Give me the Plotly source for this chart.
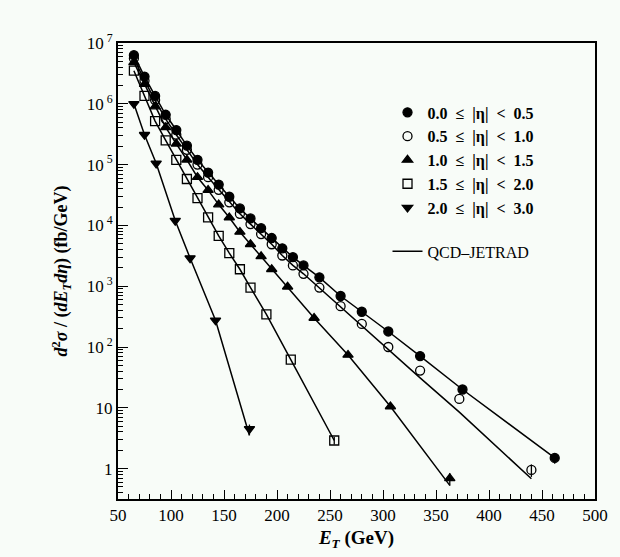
import plotly.graph_objects as go

# ---------------- data ----------------
NB = "\u00a0"
labels = ["0.0", "0.5", "1.0", "1.5", "2.0"]
labels_hi = ["0.5", "1.0", "1.5", "2.0", "3.0"]

et_0 = [65, 75, 85, 95, 105, 115, 125, 135, 145, 155, 165, 175, 185, 195, 205, 215, 225,
        240, 260, 280, 305, 335, 375, 462]
xs_0 = [6.3e6, 2.8e6, 1.35e6, 6.6e5, 3.7e5, 2.05e5, 1.2e5, 7.4e4, 4.7e4, 2.96e4, 1.9e4,
        1.3e4, 9.0e3, 6.2e3, 4.2e3, 3.0e3, 2.2e3, 1.4e3, 6.9e2, 3.8e2, 1.8e2, 7.1e1, 2.0e1, 1.5]
th_et_0 = [65, 75, 85, 95, 105, 115, 125, 135, 145, 155, 165, 175, 185, 195, 205, 215, 225,
           240, 260, 280, 305, 335, 375, 462]
th_0 = [6.3e6, 2.8e6, 1.35e6, 6.6e5, 3.7e5, 2.05e5, 1.2e5, 7.4e4, 4.7e4, 2.96e4, 1.9e4,
        1.3e4, 9.0e3, 6.2e3, 4.2e3, 3.0e3, 2.2e3, 1.4e3, 6.9e2, 3.8e2, 1.8e2, 7.1e1, 2.0e1, 1.5]

et_1 = [65, 75, 85, 95, 105, 115, 125, 135, 145, 155, 165, 175, 185, 195, 205, 215, 225,
        240, 260, 280, 305, 335, 372, 440]
xs_1 = [5.6e6, 2.4e6, 1.15e6, 5.6e5, 3.1e5, 1.75e5, 1.0e5, 6.2e4, 3.85e4, 2.4e4, 1.55e4,
        1.05e4, 7.2e3, 4.9e3, 3.2e3, 2.2e3, 1.6e3, 9.5e2, 4.7e2, 2.4e2, 1.0e2, 4.1e1, 1.4e1, 0.95]
th_et_1 = [65, 75, 85, 95, 105, 115, 125, 135, 145, 155, 165, 175, 185, 195, 205, 215, 225,
           240, 260, 280, 305, 335, 372, 440]
th_1 = [5.6e6, 2.4e6, 1.15e6, 5.6e5, 3.1e5, 1.75e5, 1.0e5, 6.2e4, 3.85e4, 2.4e4, 1.55e4,
        1.05e4, 7.2e3, 4.9e3, 3.2e3, 2.2e3, 1.6e3, 9.3e2, 4.5e2, 2.2e2, 9.0e1, 3.1e1, 8.5, 0.68]

et_2 = [65, 75, 85, 95, 105, 115, 125, 135, 145, 155, 165, 175, 185, 195, 210, 235, 267, 307, 363]
xs_2 = [4.8e6, 2.1e6, 9.0e5, 4.1e5, 2.2e5, 1.2e5, 6.2e4, 3.8e4, 2.2e4, 1.35e4, 7.8e3,
        4.9e3, 3.1e3, 1.9e3, 9.8e2, 3.0e2, 7.4e1, 1.05e1, 0.69]
th_et_2 = [65, 75, 85, 95, 105, 115, 125, 135, 145, 155, 165, 175, 185, 195, 210, 235, 267, 307, 363]
th_2 = [4.8e6, 2.1e6, 9.0e5, 4.1e5, 2.2e5, 1.2e5, 6.2e4, 3.8e4, 2.2e4, 1.35e4, 7.8e3,
        4.9e3, 3.1e3, 1.9e3, 9.8e2, 3.0e2, 7.4e1, 1.05e1, 0.53]

et_3 = [65, 75, 85, 95, 105, 115, 125, 135, 145, 155, 165, 175, 190, 213, 254]
xs_3 = [3.5e6, 1.35e6, 5.2e5, 2.5e5, 1.2e5, 5.8e4, 2.8e4, 1.36e4, 6.7e3, 3.5e3, 1.9e3,
        9.5e2, 3.45e2, 6.2e1, 2.9]
th_et_3 = [65, 75, 85, 95, 105, 115, 125, 135, 145, 155, 165, 175, 190, 213, 254]
th_3 = [3.5e6, 1.35e6, 5.2e5, 2.5e5, 1.2e5, 5.8e4, 2.8e4, 1.36e4, 6.7e3, 3.5e3, 1.9e3,
        9.5e2, 3.45e2, 6.2e1, 2.9]

et_4 = [65, 75, 86, 104, 118, 142, 174]
xs_4 = [1.0e6, 3.1e5, 1.05e5, 1.2e4, 2.9e3, 2.75e2, 4.5]
th_et_4 = [65, 75, 86, 104, 118, 142, 174]
th_4 = [1.0e6, 3.1e5, 1.05e5, 1.2e4, 2.9e3, 2.75e2, 3.5]

# uncertainties (only visible on the last points)
err_up_0 = [0] * 23 + [0.3]
err_dn_0 = [0] * 23 + [0.3]
err_up_1 = [0] * 23 + [0.22]
err_dn_1 = [0] * 23 + [0.22]
err_up_2 = [0] * 18 + [0.15]
err_dn_2 = [0] * 18 + [0.17]
err_up_3 = [0] * 14 + [0.4]
err_dn_3 = [0] * 14 + [0.4]
err_up_4 = [0] * 6 + [0.8]
err_dn_4 = [0] * 6 + [0.9]

y_tickvals = [1, 10, 1e2, 1e3, 1e4, 1e5, 1e6, 1e7]
y_ticktext = ["1", "10", "10<sup> 2</sup>", "10<sup> 3</sup>", "10<sup> 4</sup>",
              "10<sup> 5</sup>", "10<sup> 6</sup>", "10<sup> 7</sup>"]
x_tickvals = [50, 100, 150, 200, 250, 300, 350, 400, 450, 500]

# ---------------- figure ----------------
BG = "#f8fcf8"
FONT = "Liberation Serif"
fig = go.Figure()

ets = [et_0, et_1, et_2, et_3, et_4]
xss = [xs_0, xs_1, xs_2, xs_3, xs_4]
th_ets = [th_et_0, th_et_1, th_et_2, th_et_3, th_et_4]
ths = [th_0, th_1, th_2, th_3, th_4]
eups = [err_up_0, err_up_1, err_up_2, err_up_3, err_up_4]
edns = [err_dn_0, err_dn_1, err_dn_2, err_dn_3, err_dn_4]
symbols = ["circle", "circle-open", "triangle-up", "square-open", "triangle-down"]

for i in range(5):
    name = ("<b>" + labels[i] + NB * 2 + "≤" + NB * 2 + "|η|" + NB * 2 + "&lt;"
            + NB * 2 + labels_hi[i] + "</b>")
    fig.add_trace(go.Scatter(
        x=ets[i], y=xss[i], mode="markers",
        marker=dict(symbol=symbols[i], size=9, color="black",
                    line=dict(color="black", width=1.3)),
        error_y=dict(type="data", symmetric=False, array=eups[i], arrayminus=edns[i],
                     color="black", thickness=1.3, width=0),
        name=name, legendgroup="data"))

for i in range(5):
    fig.add_trace(go.Scatter(
        x=th_ets[i], y=ths[i], mode="lines",
        line=dict(color="black", width=1.5),
        showlegend=(i == 0), name="QCD–JETRAD",
        legendgroup="theory", hoverinfo="skip"))

fig.update_layout(
    width=620, height=557,
    margin=dict(l=118, r=21, t=43, b=53),
    paper_bgcolor=BG, plot_bgcolor=BG,
    font=dict(family=FONT, color="black", size=17),
    showlegend=True,
    legend=dict(x=0.565, y=0.885, xanchor="left", yanchor="top",
                bgcolor="rgba(0,0,0,0)", font=dict(size=16, family=FONT),
                traceorder="grouped", tracegroupgap=20, itemwidth=30),
    xaxis=dict(range=[50, 500], tickvals=x_tickvals, ticks="inside", ticklen=9,
               tickwidth=1.3, tickcolor="black",
               minor=dict(dtick=10, ticks="inside", ticklen=5, tickwidth=1.3, tickcolor="black"),
               showline=True, linewidth=2, linecolor="black", mirror=True,
               showgrid=False, zeroline=False, tickfont=dict(size=17),
               title=dict(text="<b><i>E<sub>T</sub></i> (GeV)</b>", font=dict(size=19), standoff=6)),
    yaxis=dict(type="log", range=[-0.5, 7], tickvals=y_tickvals, ticktext=y_ticktext,
               ticks="inside", ticklen=10, tickwidth=1.3, tickcolor="black",
               minor=dict(ticks="inside", ticklen=5, tickwidth=1.3, tickcolor="black",
                          tickvals=[m * 10 ** d for d in range(-1, 7) for m in range(2, 10)
                                    if 10 ** -0.5 <= m * 10 ** d <= 1e7]),
               showline=True, linewidth=2, linecolor="black", mirror=True,
               showgrid=False, zeroline=False, tickfont=dict(size=17),
               title=dict(text="<b><i>d</i><sup>2</sup><i>σ</i> / (<i>dE<sub>T</sub>dη</i>) (fb/GeV)</b>",
                          font=dict(size=18), standoff=14)),
)

fig.write_html("out.html")
